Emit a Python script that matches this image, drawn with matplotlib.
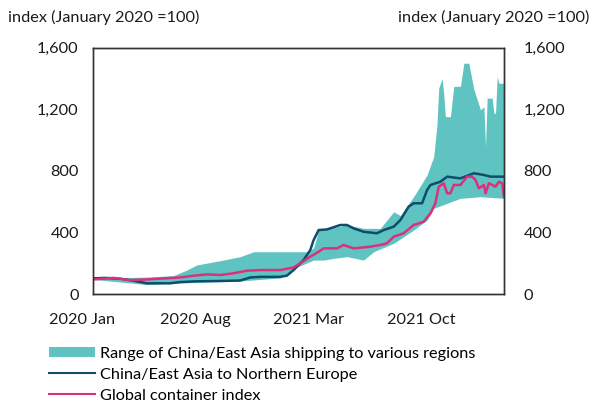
import matplotlib
matplotlib.use("Agg")
import matplotlib.pyplot as plt
from matplotlib.patches import Patch
from matplotlib.lines import Line2D
from matplotlib.ticker import FuncFormatter
import numpy as np

plt.rcParams['font.family'] = ['Lato', 'DejaVu Sans']

# x = months since 1 January 2020
ne_x = [0.72, 1.44, 2.37, 3.19, 4.02, 5.46, 6.08, 7.11, 8.56, 9.79, 10.41, 11.03, 12.27, 12.68,
        13.09, 13.71, 14.12, 14.33, 14.64, 15.15, 15.98, 16.39, 16.8, 17.42, 18.24, 18.66, 19.28,
        19.69, 20.2, 20.51, 21.03, 21.34, 21.55, 22.16, 22.58, 23.4, 24.23, 24.85, 25.26, 26.09]
ne_y = [102, 105, 100, 87, 70, 70, 78, 83, 85, 88, 108, 112, 112, 120,
        156, 221, 286, 351, 416, 420, 449, 449, 427, 405, 395, 416, 438,
        481, 568, 590, 590, 676, 709, 730, 763, 752, 785, 774, 763, 763]

gl_x = [0.72, 1.96, 2.99, 4.02, 6.08, 6.9, 7.73, 8.56, 9.38, 10.21, 11.03, 12.27, 13.09, 13.5,
        14.12, 14.64, 14.95, 15.78, 16.18, 16.8, 17.83, 18.45, 18.86, 19.28, 19.89, 20.51, 21.13,
        21.55, 21.85, 22.06, 22.37, 22.58, 22.78, 22.99, 23.4, 23.81, 24.12, 24.33, 24.54, 24.85,
        24.95, 25.16, 25.57, 25.78, 25.98, 26.09]
gl_y = [95, 105, 90, 95, 108, 119, 128, 124, 135, 152, 156, 156, 173, 200,
        243, 275, 297, 297, 319, 297, 308, 319, 330, 373, 395, 449, 470,
        525, 590, 698, 720, 655, 655, 709, 709, 763, 763, 742, 687, 709,
        655, 720, 698, 730, 720, 633]

lo_x = [0.72, 4.02, 6.08, 9.79, 12.27, 13.3, 14.33, 14.95, 15.57, 16.39, 17.42, 18.04, 19.28,
        20.51, 21.34, 21.75, 22.58, 23.4, 24.64, 26.09]
lo_y = [95, 62, 72, 85, 105, 175, 221, 221, 232, 243, 221, 275, 330,
        416, 481, 557, 590, 622, 633, 622]

hi_x = [0.72, 4.02, 5.67, 6.49, 7.11, 8.76, 9.79, 10.62, 12.27, 13.92, 14.33, 14.64, 16.39,
        17.42, 18.45, 19.28, 19.69, 20.51, 21.34, 21.75, 21.95, 22.06, 22.27, 22.37, 22.47,
        22.78, 22.99, 23.4, 23.61, 23.92, 24.23, 24.64, 24.85, 24.95, 25.05, 25.36, 25.47,
        25.57, 25.67, 25.78, 26.09]
hi_y = [105, 110, 120, 156, 189, 221, 243, 275, 275, 275, 300, 416, 449,
        427, 427, 535, 510, 633, 774, 893, 1100, 1338, 1400, 1300, 1153,
        1153, 1350, 1350, 1500, 1500, 1330, 1197, 1218, 958, 1273, 1273, 1175,
        1175, 1413, 1370, 1370]

tick_months = [0, 7, 14, 21]
tick_labels = ["2020 Jan", "2020 Aug", "2021 Mar", "2021 Oct"]
y_ticks = [0, 400, 800, 1200, 1600]
unit_label = "index (January 2020 =100)"

band_color = "#5fc4c1"
ne_color = "#0e4d6b"
gl_color = "#dc2f7d"
fs = 11.7

fig = plt.figure(figsize=(5.95, 4.09), dpi=100)
ax = fig.add_axes([0.1558, 0.281, 0.6912, 0.602])

grid = np.unique(np.concatenate([lo_x, hi_x]))
lo_i = np.interp(grid, lo_x, lo_y)
hi_i = np.interp(grid, hi_x, hi_y)
ax.fill_between(grid, lo_i, hi_i, color=band_color, linewidth=0)
ax.plot(ne_x, ne_y, color=ne_color, lw=1.8)
ax.plot(gl_x, gl_y, color=gl_color, lw=1.8)

ax.set_xlim(0.68, 26.09)
ax.set_ylim(0, 1600)
ax.set_xticks([])
ax.set_yticks(y_ticks)
fmt = FuncFormatter(lambda v, p: f"{int(v):,}")
ax.yaxis.set_major_formatter(fmt)
ax.tick_params(axis='y', length=0, pad=10, labelsize=fs, colors='#1a1a1a')
for s in ax.spines.values():
    s.set_color('#333333')
    s.set_linewidth(1.0)

ax2 = ax.twinx()
ax2.set_ylim(0, 1600)
ax2.set_yticks(y_ticks)
ax2.yaxis.set_major_formatter(fmt)
ax2.tick_params(axis='y', length=0, pad=14, labelsize=fs, colors='#1a1a1a')
for s in ax2.spines.values():
    s.set_color('#333333')
    s.set_linewidth(1.0)

trans = ax.get_xaxis_transform()
for m, lab in zip(tick_months, tick_labels):
    ax.text(m, -0.075, lab, transform=trans, ha='center', va='top', fontsize=fs,
            color='#1a1a1a', clip_on=False)

fig.text(8 / 595, 1 - 17 / 409, unit_label, ha='left', va='center', fontsize=fs, color='#1a1a1a')
fig.text(589 / 595, 1 - 17 / 409, unit_label, ha='right', va='center', fontsize=fs, color='#1a1a1a')

handles = [Patch(facecolor=band_color, edgecolor='none'),
           Line2D([], [], color=ne_color, lw=1.5),
           Line2D([], [], color=gl_color, lw=1.5)]
labels = ["Range of China/East Asia shipping to various regions",
          "China/East Asia to Northern Europe",
          "Global container index"]
leg = fig.legend(handles, labels, loc='upper left', bbox_to_anchor=(49 / 595, 1 - 347 / 409),
                 frameon=False, fontsize=fs, handlelength=2.85, handleheight=0.6,
                 handletextpad=0.3, labelspacing=0.42, borderaxespad=0, borderpad=0)

fig.savefig("out.png", dpi=100)
